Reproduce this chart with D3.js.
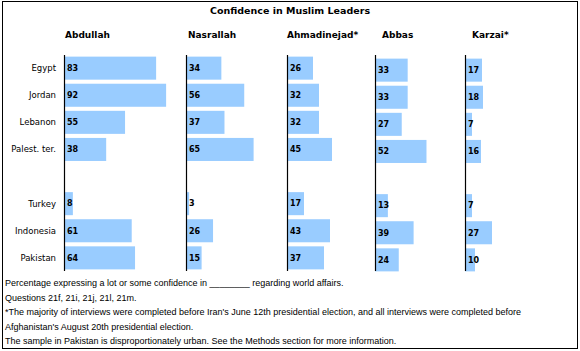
<!DOCTYPE html>
<html>
<head>
<meta charset="utf-8">
<script src="https://cdn.jsdelivr.net/npm/d3@7"></script>
<style>
  body { margin: 0; background: #fff; }
  text { font-family: "DejaVu Sans", Verdana, sans-serif; fill: #000; }
  .title { font-size: 9.5px; font-weight: bold; }
  .leader { font-size: 9px; font-weight: bold; }
  .country { font-size: 8.5px; }
  .val { font-size: 8px; font-weight: bold; }
  .note { font-family: "Liberation Sans", Arial, sans-serif; font-size: 9px; }
</style>
</head>
<body>
<script>
const countries = ["Egypt", "Jordan", "Lebanon", "Palest. ter.", "", "Turkey", "Indonesia", "Pakistan"]
const leaders = ["Abdullah", "Nasrallah", "Ahmadinejad*", "Abbas", "Karzai*"]

// values per leader, in country order (blank row = gap)
const abdullah    = [83, 92, 55, 38, null, 8, 61, 64]
const nasrallah   = [34, 56, 37, 65, null, 3, 26, 15]
const ahmadinejad = [26, 32, 32, 45, null, 17, 43, 37]
const abbas       = [33, 33, 27, 52, null, 13, 39, 24]
const karzai      = [17, 18, 7, 16, null, 7, 27, 10]

const notes = [
  "Percentage expressing a lot or some confidence in ________ regarding world affairs.",
  "Questions 21f, 21i, 21j, 21l, 21m.",
  "*The majority of interviews were completed before Iran's June 12th presidential election, and all interviews were completed before",
  "Afghanistan's August 20th presidential election.",
  "The sample in Pakistan is disproportionately urban. See the Methods section for more information."
]

const W = 580, H = 351
const svg = d3.select("body").append("svg")
    .attr("width", W)
    .attr("height", H)

// frame
svg.append("rect")
    .attr("x", 2.5).attr("y", 1.5)
    .attr("width", 575).attr("height", 347)
    .attr("fill", "none")
    .attr("stroke", "#000")
    .attr("stroke-width", 1)

svg.append("text")
    .attr("class", "title")
    .attr("x", 290).attr("y", 14)
    .attr("text-anchor", "middle")
    .text("Confidence in Muslim Leaders")

const y = d3.scaleBand()
    .domain(d3.range(countries.length))
    .range([55, 271])
    .paddingInner(0.15)
    .paddingOuter(0.06)

// per-column layout: axis x, header x, px width for 100%
const cols = [
  {name: leaders[0], vals: abdullah,    x0: 64,  hx: 65,  w: 111, dy: 0},
  {name: leaders[1], vals: nasrallah,   x0: 186, hx: 188, w: 104, dy: 0},
  {name: leaders[2], vals: ahmadinejad, x0: 287, hx: 287, w: 100, dy: 0},
  {name: leaders[3], vals: abbas,       x0: 375, hx: 382, w: 99,  dy: 2},
  {name: leaders[4], vals: karzai,      x0: 465, hx: 472, w: 100, dy: 2}
]

// country labels
svg.selectAll(".country")
    .data(countries)
  .enter().append("text")
    .attr("class", "country")
    .attr("x", 56)
    .attr("y", (d, i) => y(i) + y.bandwidth() / 2)
    .attr("dy", "0.35em")
    .attr("text-anchor", "end")
    .text(d => d)

cols.forEach(c => {
  const x = d3.scaleLinear().domain([0, 100]).range([c.x0, c.x0 + c.w])
  const g = svg.append("g")

  g.append("text")
      .attr("class", "leader")
      .attr("x", c.hx).attr("y", 38)
      .text(c.name)

  const rows = c.vals.map((v, i) => ({v, i})).filter(d => d.v != null)

  g.selectAll("rect")
      .data(rows)
    .enter().append("rect")
      .attr("x", x(0))
      .attr("y", d => y(d.i) + c.dy)
      .attr("width", d => x(d.v) - x(0))
      .attr("height", y.bandwidth())
      .attr("fill", "#99CCFF")

  g.selectAll(".val")
      .data(rows)
    .enter().append("text")
      .attr("class", "val")
      .attr("x", x(0) + 3)
      .attr("y", d => y(d.i) + c.dy + y.bandwidth() / 2)
      .attr("dy", "0.35em")
      .text(d => d.v)

  g.append("line")
      .attr("x1", c.x0 + 0.5).attr("x2", c.x0 + 0.5)
      .attr("y1", 55).attr("y2", 271)
      .attr("stroke", "#000")
      .attr("stroke-width", 1.2)
})

svg.selectAll(".note")
    .data(notes)
  .enter().append("text")
    .attr("class", "note")
    .attr("x", 5)
    .attr("y", (d, i) => 286 + i * 14.5)
    .text(d => d)
</script>
</body>
</html>
